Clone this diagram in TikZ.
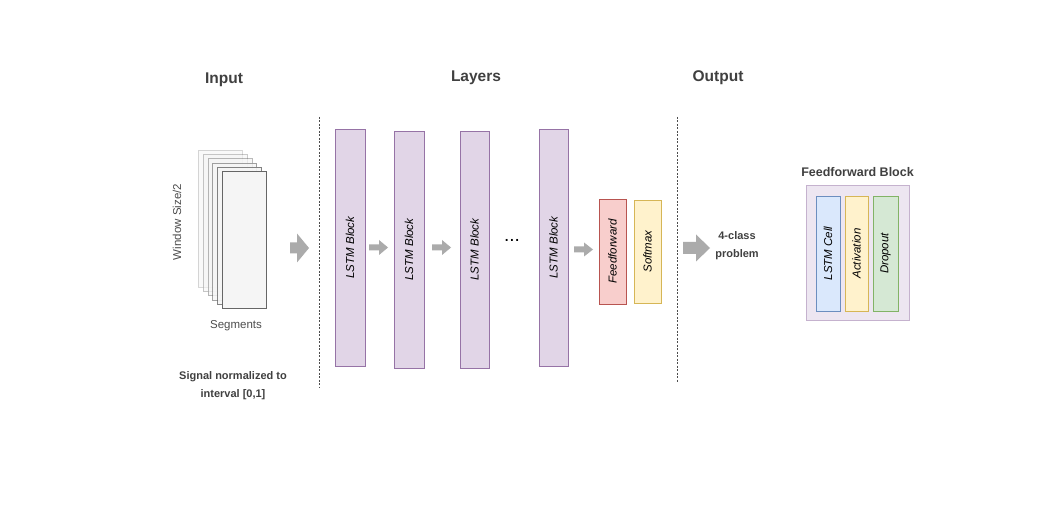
\documentclass[tikz,border=0pt]{standalone}
\usepackage{fontspec}
\setmainfont{Liberation Sans}
\definecolor{lstmfill}{HTML}{E1D5E7}
\definecolor{lstmdraw}{HTML}{9673A6}
\definecolor{redfill}{HTML}{F8CECC}
\definecolor{reddraw}{HTML}{B85450}
\definecolor{yelfill}{HTML}{FFF2CC}
\definecolor{yeldraw}{HTML}{D6B656}
\definecolor{bluefill}{HTML}{DAE8FC}
\definecolor{bluedraw}{HTML}{6C8EBF}
\definecolor{grnfill}{HTML}{D5E8D4}
\definecolor{grndraw}{HTML}{82B366}
\definecolor{arrowgray}{HTML}{ABABAB}
\definecolor{titlegray}{HTML}{404040}
\definecolor{txtgray}{HTML}{4D4D4D}
\definecolor{stackdraw}{HTML}{666666}
\definecolor{stackfill}{HTML}{F5F5F5}
\tikzset{
  box/.style={rectangle, inner sep=0pt, line width=0.8pt},
  lstmbox/.style={box, fill=lstmfill, draw=lstmdraw, minimum width=30pt, minimum height=237pt},
  rottext/.style={rotate=90, font=\fontsize{11.5}{13}\selectfont\itshape, text=black},
  title/.style={font=\fontsize{15.5}{18}\selectfont\bfseries, text=titlegray},
  small/.style={font=\fontsize{11}{18}\selectfont\bfseries, text=txtgray, align=center},
  plain/.style={font=\fontsize{11.5}{14}\selectfont, text=txtgray},
  stackbox/.style={box, draw=stackdraw, fill=stackfill, minimum width=44pt, minimum height=137pt, anchor=north west},
  sep/.style={draw=txtgray, line width=0.7pt, dash pattern=on 2pt off 1.5pt},
}
\newcommand{\fatarrow}[7]{% x0 xhead xtip ycenter shafthalf headhalf name
  \fill[arrowgray] (#1,#4-#5) -- (#2,#4-#5) -- (#2,#4-#6) -- (#3,#4) -- (#2,#4+#6) -- (#2,#4+#5) -- (#1,#4+#5) -- cycle;
  \coordinate (#7) at (#3,#4);
}
\begin{document}
\begin{tikzpicture}[x=1pt,y=-1pt]
\useasboundingbox[fill=white] (0,0) rectangle (1048,526);

% titles
\node[title] (tin) at (224,80) {Input};
\node[title] (tlay) at (476,78) {Layers};
\node[title] (tout) at (718,78) {Output};

% separators
\coordinate (d1a) at (319,117); \coordinate (d1b) at (319,387);
\coordinate (d2a) at (677,117); \coordinate (d2b) at (677,383);
\draw[sep] (d1a) -- (d1b);
\draw[sep] (d2a) -- (d2b);

% input stack
\node[stackbox, draw opacity=0.25, fill opacity=0.5] (s1) at (198,150) {};
\node[stackbox, draw opacity=0.35, fill opacity=0.6] (s2) at (202.8,154.2) {};
\node[stackbox, draw opacity=0.45, fill opacity=0.7] (s3) at (207.6,158.4) {};
\node[stackbox, draw opacity=0.6, fill opacity=0.8] (s4) at (212.4,162.6) {};
\node[stackbox, draw opacity=0.8, fill opacity=0.9] (s5) at (217.2,166.8) {};
\node[stackbox] (s6) at (222,171) {};
\node[plain, rotate=90] (win) at (177,222) {Window Size/2};
\node[plain] (seg) at (236,326) {Segments};
\node[small, text=titlegray] (sig) at (233,386) {Signal normalized to\\interval [0,1]};

% arrows
\fatarrow{290}{297}{309}{248}{5.5}{14.5}{a0}
\fatarrow{369}{379}{388}{247.5}{3}{7.5}{a1}
\fatarrow{432}{442}{451}{247.5}{3}{7.5}{a2}
\fatarrow{574}{584}{593}{249.5}{3}{7}{a3}
\fatarrow{683}{696}{710}{248}{6}{13.5}{a4}

% LSTM blocks
\node[lstmbox] (l1) at (350,247.5) {};
\node[rottext] at (l1) {LSTM Block};
\node[lstmbox] (l2) at (409,249.5) {};
\node[rottext] at (l2) {LSTM Block};
\node[lstmbox, minimum width=29pt] (l3) at (474.5,249.5) {};
\node[rottext] at (l3) {LSTM Block};
\node[font=\fontsize{19}{19}\selectfont] (dots) at (512,240) {...};
\node[lstmbox, minimum width=29pt] (l4) at (553.5,247.5) {};
\node[rottext] at (l4) {LSTM Block};

\node[box, fill=redfill, draw=reddraw, minimum width=27pt, minimum height=105pt] (ff) at (612.5,251.5) {};
\node[rottext] at (ff) {Feedforward};
\node[box, fill=yelfill, draw=yeldraw, minimum width=27pt, minimum height=103pt] (sm) at (647.5,251.5) {};
\node[rottext] at (sm) {Softmax};

\node[small, text=titlegray] (prob) at (737,246) {4-class\\problem};

% feedforward block
\node[font=\fontsize{12.5}{15}\selectfont\bfseries, text=titlegray] (fbt) at (857.5,172) {Feedforward Block};
\node[box, fill=lstmfill!60!white, draw=lstmdraw!55!white, minimum width=103pt, minimum height=135pt] (fb) at (857.5,252.5) {};
\node[box, fill=bluefill, draw=bluedraw, minimum width=24pt, minimum height=115pt] (cell) at (828,253.5) {};
\node[rottext] at (cell) {LSTM Cell};
\node[box, fill=yelfill, draw=yeldraw, minimum width=23pt, minimum height=115pt] (act) at (856.5,253.5) {};
\node[rottext] at (act) {Activation};
\node[box, fill=grnfill, draw=grndraw, minimum width=25pt, minimum height=115pt] (drop) at (885.5,253.5) {};
\node[rottext] at (drop) {Dropout};
\end{tikzpicture}
\end{document}
